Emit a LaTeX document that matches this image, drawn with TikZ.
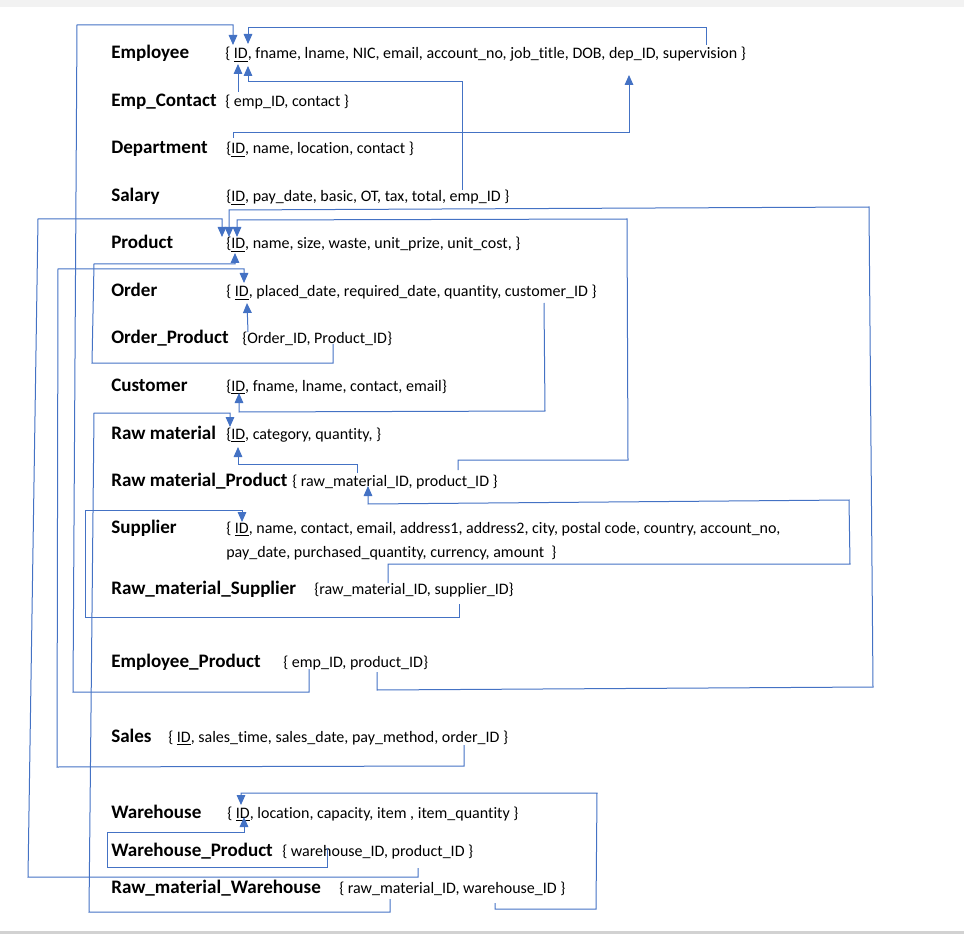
\documentclass[tikz,border=0pt]{standalone}
\usepackage{fontspec}
\setmainfont{Carlito}[Ligatures={TeX,NoCommon}]
\usetikzlibrary{arrows.meta}
\definecolor{linkblue}{HTML}{4472C4}

\begin{document}
\begin{tikzpicture}[x=0.75pt,y=-0.75pt]
  \tikzstyle{every node} = [anchor=base west, inner sep=0pt, text=black]
  \tikzstyle{tbl} = [font=\bfseries\fontsize{14.3}{17}\selectfont]
  \tikzstyle{attr} = [font=\fontsize{12}{14}\selectfont]
  \tikzstyle{fk} = [draw=linkblue, line width=0.75pt]
  \tikzstyle{ref} = [fk, -{Triangle[length=7.5pt,width=6.5pt]}]
  \useasboundingbox (0,0) rectangle (964,934);
  \fill[gray!10] (0,0) rectangle (964,7);
  \fill[gray!35] (0,931) rectangle (964,934);

  % tables and their attributes
  \node[tbl] (employee) at (111,59) {Employee};
  \node[attr] (employeeA) at (225,59) {\{ \underline{ID}, fname, lname, NIC, email, account\_no, job\_title, DOB, dep\_ID, supervision \}};
  \node[tbl] (empcontact) at (111,107) {Emp\_Contact};
  \node[attr] (empcontactA) at (225,107) {\{ emp\_ID, contact \}};
  \node[tbl] (department) at (111,154) {Department};
  \node[attr] (departmentA) at (226,154) {\{\underline{ID}, name, location, contact \}};
  \node[tbl] (salary) at (111,202) {Salary};
  \node[attr] (salaryA) at (226,202) {\{\underline{ID}, pay\_date, basic, OT, tax, total, emp\_ID \}};
  \node[tbl] (product) at (111,249) {Product};
  \node[attr] (productA) at (226,249) {\{\underline{ID}, name, size, waste, unit\_prize, unit\_cost, \}};
  \node[tbl] (order) at (111,297) {Order};
  \node[attr] (orderA) at (226,297) {\{ \underline{ID}, placed\_date, required\_date, quantity, customer\_ID \}};
  \node[tbl] (orderproduct) at (111,344) {Order\_Product};
  \node[attr] (orderproductA) at (242,344) {\{Order\_ID, Product\_ID\}};
  \node[tbl] (customer) at (111,391) {Customer};
  \node[attr] (customerA) at (226,391) {\{\underline{ID}, fname, lname, contact, email\}};
  \node[tbl] (rawmaterial) at (111,439) {Raw material};
  \node[attr] (rawmaterialA) at (226,439) {\{\underline{ID}, category, quantity, \}};
  \node[tbl] (rawproduct) at (111,486) {Raw material\_Product};
  \node[attr] (rawproductA) at (292,486) {\{ raw\_material\_ID, product\_ID \}};
  \node[tbl] (supplier) at (111,533) {Supplier};
  \node[attr] (supplierA) at (226,533) {\{ \underline{ID}, name, contact, email, address1, address2, city, postal code, country, account\_no,};
  \node[attr] (supplierB) at (226,557) {pay\_date, purchased\_quantity, currency, amount \ \}};
  \node[tbl] (rawsupplier) at (111,594) {Raw\_material\_Supplier};
  \node[attr] (rawsupplierA) at (314,594) {\{raw\_material\_ID, supplier\_ID\}};
  \node[tbl] (empproduct) at (111,667) {Employee\_Product};
  \node[attr] (empproductA) at (283,667) {\{ emp\_ID, product\_ID\}};
  \node[tbl] (sales) at (111,742) {Sales};
  \node[attr] (salesA) at (168,742) {\{ \underline{ID}, sales\_time, sales\_date, pay\_method, order\_ID \}};
  \node[tbl] (warehouse) at (111,818) {Warehouse};
  \node[attr] (warehouseA) at (227,818) {\{ \underline{ID}, location, capacity, item , item\_quantity \}};
  \node[tbl] (whproduct) at (111,856) {Warehouse\_Product};
  \node[attr] (whproductA) at (282,856) {\{ warehouse\_ID, product\_ID \}};
  \node[tbl] (rawwarehouse) at (111,893) {Raw\_material\_Warehouse};
  \node[attr] (rawwarehouseA) at (339,893) {\{ raw\_material\_ID, warehouse\_ID \}};

  % key points
  \coordinate (empID1) at (233,45);  \coordinate (empID2) at (248,44);
  \coordinate (empID3) at (238,64);  \coordinate (empID4) at (248,66);
  \coordinate (empDep) at (629,75);  \coordinate (empSup) at (706,45);
  \coordinate (ecEmp) at (238,92);   \coordinate (depID) at (233,138);
  \coordinate (salEmp) at (462,190);
  \coordinate (prodID1) at (222,237); \coordinate (prodID2) at (229,237);
  \coordinate (prodID3) at (237,237); \coordinate (prodID4) at (235,253);
  \coordinate (ordID1) at (244,283); \coordinate (ordID2) at (247,303);
  \coordinate (ordCust) at (544,303);
  \coordinate (opOrd) at (248,332);  \coordinate (opProd) at (333,344);
  \coordinate (custID) at (239,393);
  \coordinate (rawID1) at (230,427); \coordinate (rawID2) at (238,447);
  \coordinate (rmpRaw) at (357,473); \coordinate (rmpProd) at (458,470);
  \coordinate (rmpRawIn) at (368,486);
  \coordinate (supID) at (242,522);
  \coordinate (rmsRaw) at (388,583); \coordinate (rmsSup) at (459,604);
  \coordinate (epEmp) at (309,669);  \coordinate (epProd) at (377,672);
  \coordinate (salesOrd) at (464,745);
  \coordinate (whID1) at (241,805);  \coordinate (whID2) at (244,817);
  \coordinate (wpWh) at (327,848);   \coordinate (wpProd) at (418,868);
  \coordinate (rmwRaw) at (390,899); \coordinate (rmwWh) at (495,903);

  % foreign keys
  \draw[ref] (epEmp) -- (309,692) -- (73,692) -- (77,25) -- (233,25) -- (empID1);
  \draw[ref] (empSup) -- (706,28) -- (248,28) -- (empID2);
  \draw[ref] (ecEmp) -- (empID3);
  \draw[ref] (salEmp) -- (462,82) -- (248,82) -- (empID4);
  \draw[ref] (depID) -- (233,133) -- (629,133) -- (empDep);
  \draw[ref] (epProd) -- (377,690) -- (873,687) -- (869,207) -- (229,210) -- (prodID2);
  \draw[ref] (rmpProd) -- (458,460) -- (628,460) -- (627,219) -- (237,220) -- (prodID3);
  \draw[ref] (wpProd) -- (418,877) -- (28,877) -- (38,219) -- (222,219) -- (prodID1);
  \draw[ref] (opProd) -- (333,363) -- (92,363) -- (94,264) -- (235,264) -- (prodID4);
  \draw[ref] (salesOrd) -- (464,766) -- (57,767) -- (58,269) -- (244,269) -- (ordID1);
  \draw[ref] (opOrd) -- (ordID2);
  \draw[ref] (ordCust) -- (545,411) -- (239,412) -- (custID);
  \draw[ref] (rmwRaw) -- (390,912) -- (89,912) -- (94,413) -- (230,413) -- (rawID1);
  \draw[ref] (rmpRaw) -- (357,464) -- (238,464) -- (rawID2);
  \draw[ref] (rmsRaw) -- (388,564) -- (850,564) -- (849,500) -- (368,504) -- (rmpRawIn);
  \draw[ref] (rmsSup) -- (459,617) -- (85,617) -- (85,510) -- (242,510) -- (supID);
  \draw[ref] (rmwWh) -- (495,909) -- (596,909) -- (597,793) -- (241,793) -- (whID1);
  \draw[ref] (wpWh) -- (327,867) -- (107,867) -- (107,832) -- (244,832) -- (whID2);
\end{tikzpicture}
\end{document}
